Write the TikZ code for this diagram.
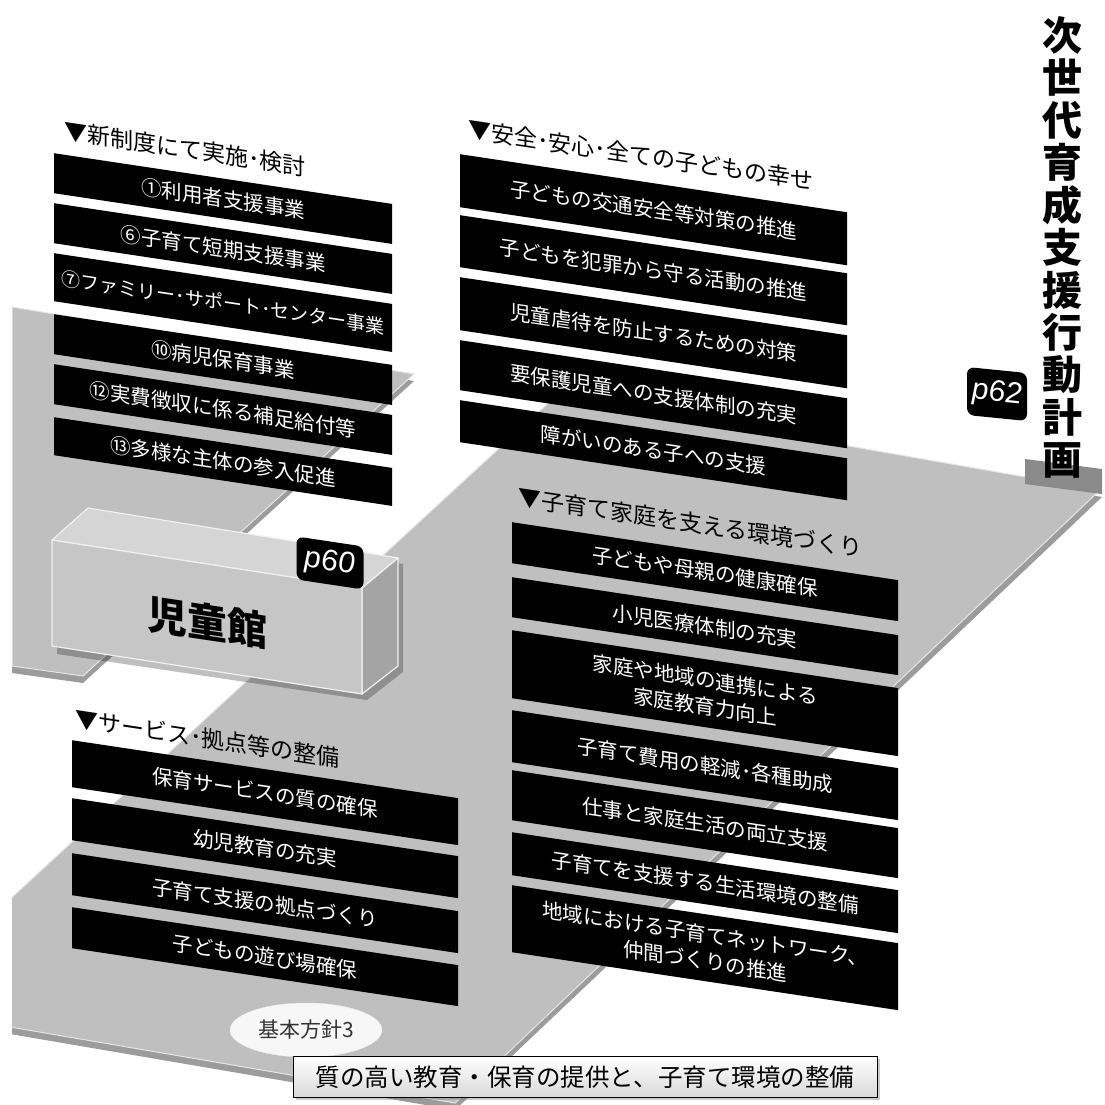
\documentclass[tikz,border=0pt]{standalone}
\usepackage{fontspec}
\setmainfont{Noto Sans CJK JP}
\newfontfamily\latinsans{Liberation Sans}
\usetikzlibrary{shapes.geometric, shadows}
\definecolor{floorgray}{HTML}{BFBFBF}
\definecolor{slabgray}{HTML}{9C9C9C}
\definecolor{boxfront}{HTML}{C6C6C6}
\definecolor{boxtop}{HTML}{D5D5D5}
\definecolor{boxside}{HTML}{A4A4A4}
\definecolor{pillar}{HTML}{8A8A8A}

\begin{document}
\begin{tikzpicture}[
    x=1pt, y=-1pt,
    floor/.style={fill=floorgray, draw=gray!20, line width=1pt},
    slab/.style={fill=slabgray},
    face/.style={draw=gray!12, line width=1.2pt, line join=round},
    bar/.style={fill=black, text=white, inner sep=0pt, anchor=north west,
      align=center, transform shape, font=\fontsize{20.5}{27}\selectfont},
    head/.style={anchor=west, inner sep=0pt, transform shape,
      font=\fontsize{23}{25}\selectfont},
    badge/.style={fill=black, rounded corners=7pt, text=white, inner sep=0pt,
      font=\latinsans\itshape\fontsize{30}{30}\selectfont},
    titlech/.style={inner sep=0pt, font=\bfseries\fontsize{40}{40}\selectfont}
  ]
    \useasboundingbox (0,0) rectangle (1105,1104);
    \fill[white] (0,0) rectangle (1105,1104);

    % floors
    \begin{scope}
      \clip (12,0) rectangle (1105,1104);
      \fill[slab] (12,313) -- (414,381) -- (83,683) -- (12,673) -- cycle;
      \filldraw[floor] (12,307) -- (414,374) -- (83,676) -- (12,666) -- cycle;
      \fill[slab] (557,402) -- (1102,497) -- (455,1110) -- (-107,1014) -- cycle;
      \filldraw[floor] (557,395) -- (1100,490) -- (455,1103) -- (-107,1007) -- cycle;
    \end{scope}

    % pillar under the plan title
    \fill[pillar] (1025,459) -- (1102,469) -- (1102,494) -- (1025,484) -- cycle;

    % building
    \fill[black, opacity=.25] (57,546) -- (93,514) -- (403,564) -- (403,672)
      -- (367,700) -- (57,654) -- cycle;
    \filldraw[face, fill=boxtop] (52,540) -- (88,508) -- (398,558) -- (362,588) -- cycle;
    \filldraw[face, fill=boxside] (362,588) -- (398,558) -- (398,666) -- (362,694) -- cycle;
    \filldraw[face, fill=boxfront] (52,540) -- (362,588) -- (362,694) -- (52,646) -- cycle;
    \node[font=\bfseries\fontsize{40}{40}\selectfont, yslant=-0.15] (kan) at (207,622) {児童館};
    \node[badge, yslant=-0.15, minimum width=67pt, minimum height=43pt] (p60) at (330,563) {p60};

    % new system
    \begin{scope}[shift={(54,153)}, yslant=-0.15]
      \node[head] (hd1) at (10,-24) {▼新制度にて実施･検討};
      \foreach \yt/\bh/\lbl [count=\i] in {
          0/40/{①利用者支援事業},
          50/40/{⑥子育て短期支援事業},
          100/48/{\fontsize{19}{21}\selectfont ⑦ファミリー･サポート･センター事業},
          161/40/{⑩病児保育事業},
          211/40/{⑫実費徴収に係る補足給付等},
          264/38/{⑬多様な主体の参入促進}}
        \node[bar, minimum width=338pt, minimum height=\bh pt] (n\i) at (0,\yt) {\lbl};
    \end{scope}

    % safety
    \begin{scope}[shift={(460,154)}, yslant=-0.15]
      \node[head] (hd2) at (8,-26) {▼安全･安心･全ての子どもの幸せ};
      \foreach \yt/\bh/\lbl [count=\i] in {
          0/53/{子どもの交通安全等対策の推進},
          61/52/{子どもを犯罪から守る活動の推進},
          123/53/{児童虐待を防止するための対策},
          186/50/{要保護児童への支援体制の充実},
          246/42/{障がいのある子への支援}}
        \node[bar, minimum width=387pt, minimum height=\bh pt] (a\i) at (0,\yt) {\lbl};
    \end{scope}

    % families
    \begin{scope}[shift={(512,522)}, yslant=-0.15]
      \node[head] (hd3) at (6,-26) {▼子育て家庭を支える環境づくり};
      \foreach \yt/\bh/\lbl [count=\i] in {
          0/41/{子どもや母親の健康確保},
          55/40/{小児医療体制の充実},
          108/68/{家庭や地域の連携による\\家庭教育力向上},
          188/52/{子育て費用の軽減･各種助成},
          248/50/{仕事と家庭生活の両立支援},
          310/43/{子育てを支援する生活環境の整備},
          363/67/{地域における子育てネットワーク、\\仲間づくりの推進}}
        \node[bar, minimum width=386pt, minimum height=\bh pt] (f\i) at (0,\yt) {\lbl};
    \end{scope}

    % services
    \begin{scope}[shift={(72,740)}, yslant=-0.15]
      \node[head] (hd4) at (3,-22) {▼サービス･拠点等の整備};
      \foreach \yt/\bh/\lbl [count=\i] in {
          0/47/{保育サービスの質の確保},
          58/42/{幼児教育の充実},
          113/42/{子育て支援の拠点づくり},
          167/41/{子どもの遊び場確保}}
        \node[bar, minimum width=386pt, minimum height=\bh pt] (s\i) at (0,\yt) {\lbl};
    \end{scope}

    % plan title
    \foreach \kanji [count=\i] in {次,世,代,育,成,支,援,行,動,計,画}
      \node[titlech] (t\i) at (1062, {35+(\i-1)*42.5}) {\kanji};
    \node[badge, yslant=-0.1, minimum width=60pt, minimum height=48pt] (p62) at (997,394) {p62};

    % policy
    \node[ellipse, fill=gray!6, draw=gray!15, minimum width=152pt, minimum height=54pt,
      text=black!80, font=\fontsize{21}{21}\selectfont] (kihon) at (306,1030) {基本方針3};
    \node[draw=black, line width=0.8pt, top color=white, bottom color=gray!30,
      drop shadow={opacity=.4}, minimum width=584pt, minimum height=41pt,
      font=\fontsize{24.5}{25}\selectfont] (policy) at (585,1077) {質の高い教育・保育の提供と、子育て環境の整備};
\end{tikzpicture}
\end{document}
